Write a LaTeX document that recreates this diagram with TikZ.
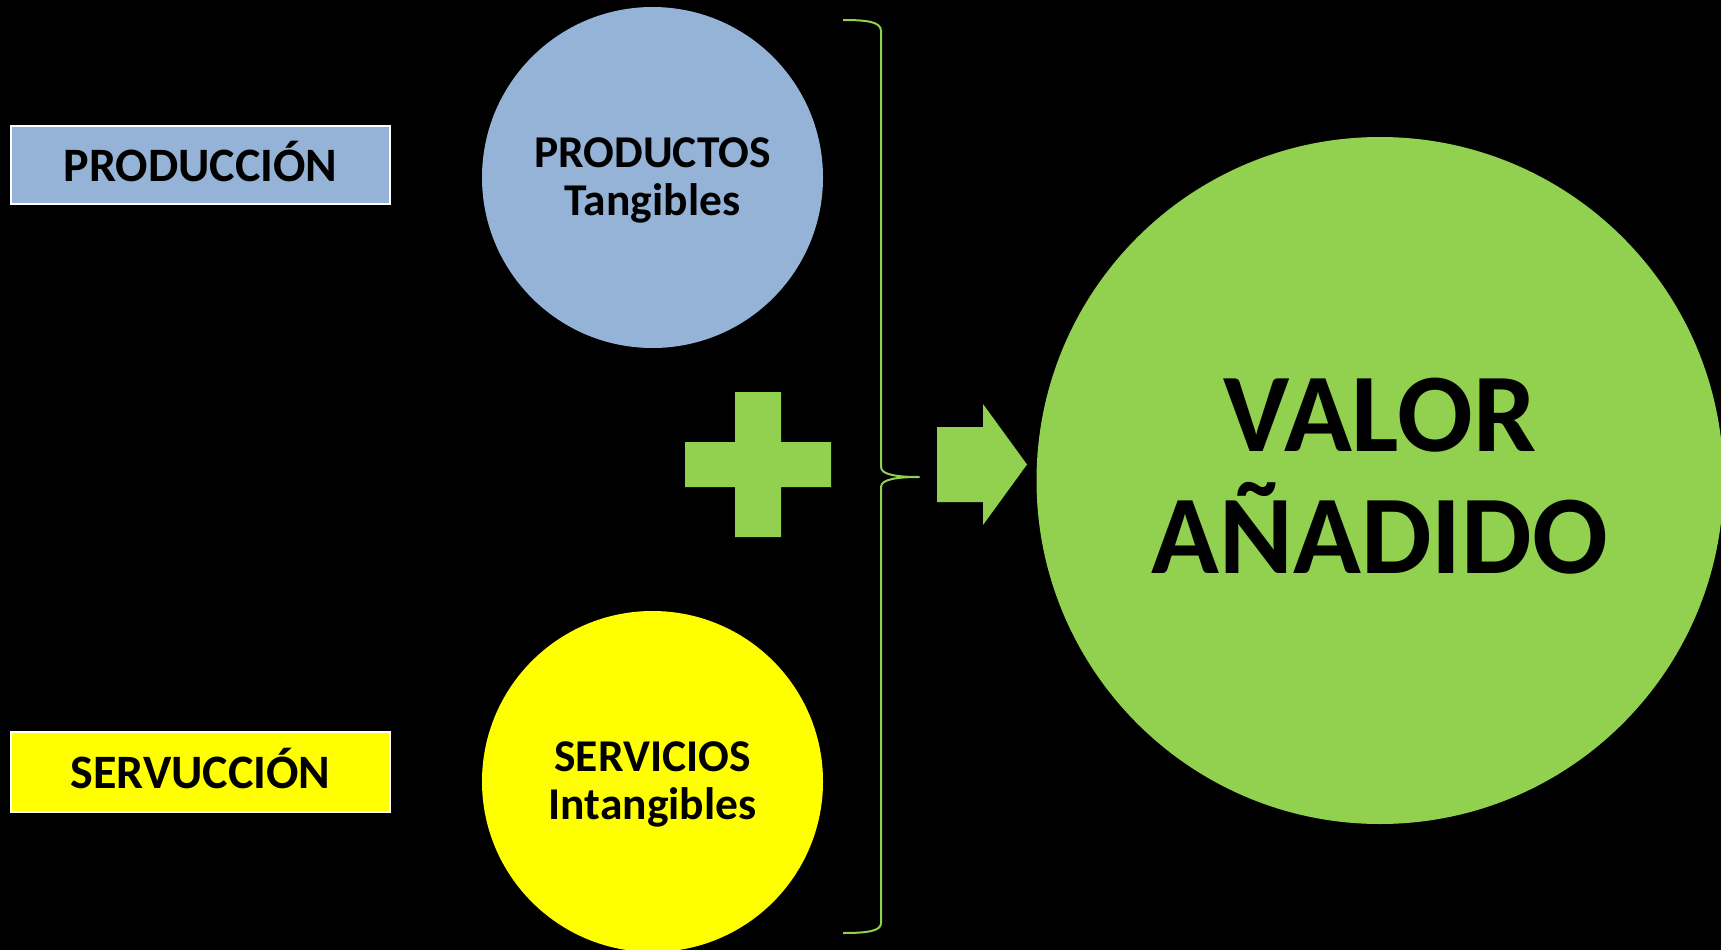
\documentclass[tikz,border=0pt]{standalone}
\usepackage{fontspec}
\setmainfont{Carlito}
\definecolor{pblue}{HTML}{95B3D7}
\definecolor{pyellow}{HTML}{FFFF00}
\definecolor{pgreen}{HTML}{92D050}
\tikzset{
  disc/.style={circle, inner sep=0pt, minimum size=#1},
  labelbox/.style={draw=white, line width=1.2pt},
  boxtext/.style={anchor=base, inner sep=0pt, font=\fontsize{48}{52}\selectfont\bfseries},
  circtext/.style={anchor=base, inner sep=0pt, font=\fontsize{45.5}{50}\selectfont\bfseries},
  bigtext/.style={anchor=base, inner sep=0pt, font=\fontsize{112}{122}\selectfont\bfseries},
  bracestyle/.style={draw=pgreen, line width=2pt, line join=round}
}
\begin{document}
\begin{tikzpicture}[x=1pt, y=-1pt]
\useasboundingbox (0,0) rectangle (1721,950);
\fill[black] (0,0) rectangle (1721,950);

% left labels
\filldraw[labelbox, fill=pblue] (11,126) rectangle (390,204);
\node[boxtext] (prodtxt) at (200.5,181) {PRODUCCIÓN};
\filldraw[labelbox, fill=pyellow] (11,732) rectangle (390,812);
\node[boxtext] (servtxt) at (200.5,788) {SERVUCCIÓN};

% circles
\node[disc=341pt, fill=pblue] (prod) at (652.5,177.5) {};
\node[circtext] (prod1) at (652.5,167) {PRODUCTOS};
\node[circtext] (prod2) at (652.5,215) {Tangibles};

\node[disc=341pt, fill=pyellow] (serv) at (652.5,781.5) {};
\node[circtext] (serv1) at (652.5,771) {SERVICIOS};
\node[circtext] (serv2) at (652.5,819) {Intangibles};

% plus sign
\fill[pgreen] (735,392) -- (781,392) -- (781,442) -- (831,442) -- (831,487)
  -- (781,487) -- (781,537) -- (735,537) -- (735,487) -- (685,487)
  -- (685,442) -- (735,442) -- cycle;

% brace
\draw[bracestyle] (843,20) .. controls (868,20) and (881,22) .. (881,31)
  -- (881,467) .. controls (881,475) and (898,477) .. (919,477)
  .. controls (898,477) and (881,479) .. (881,487)
  -- (881,923) .. controls (881,931) and (868,933) .. (843,933);

% arrow
\fill[pgreen] (937,427) -- (983,427) -- (983,404) -- (1027,464.5)
  -- (983,525) -- (983,502) -- (937,502) -- cycle;

% big circle
\node[disc=687pt, fill=pgreen] (valor) at (1380,480.5) {};
\node[bigtext] (valor1) at (1380,451) {VALOR};
\node[bigtext] (valor2) at (1380,573) {AÑADIDO};
\end{tikzpicture}
\end{document}
